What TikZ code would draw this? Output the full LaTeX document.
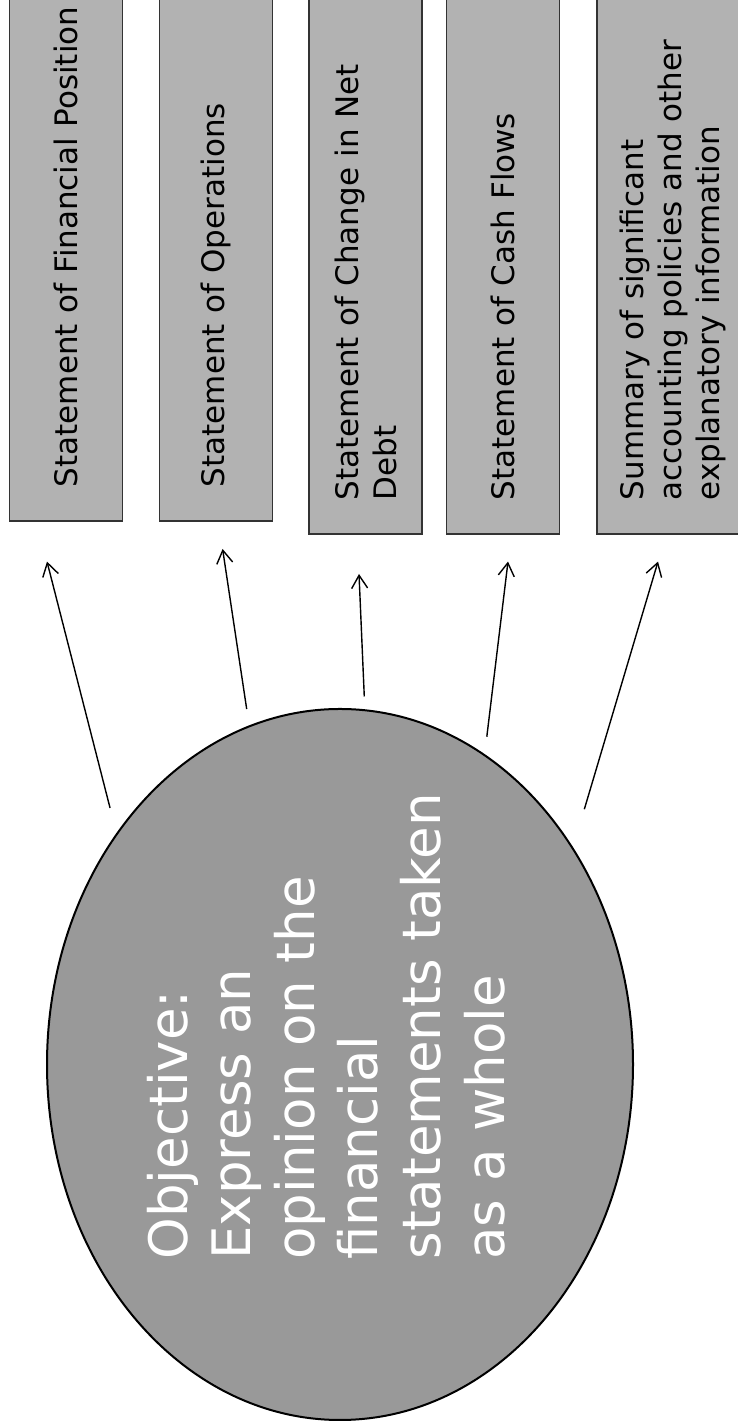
\documentclass[tikz,border=0pt]{standalone}
\usepackage{fontspec}
\setmainfont{DejaVu Sans}
\usepackage{tikz}
\usetikzlibrary{arrows.meta, shapes.geometric}

\definecolor{boxgray}{RGB}{178,178,178}
\definecolor{ovalgray}{RGB}{153,153,153}

\tikzset{
  statement/.style={draw=black!80, line width=0.75pt, fill=boxgray, rotate=90, anchor=west,
    minimum width=300pt, minimum height=56.5pt, inner xsep=17pt, inner ysep=2pt,
    text width=266pt, align=left, font=\fontsize{15.5}{19}\selectfont},
  link/.style={line width=0.7pt, -{Straight Barb[length=6.5pt, width=8pt]}}
}

\begin{document}
\begin{tikzpicture}[x=0.5pt, y=0.5pt]
  \useasboundingbox (0,0) rectangle (738,1428);
  \clip (0,0) rectangle (738,1428);

  % Objective oval
  \node[ellipse, draw, line width=1pt, fill=ovalgray, minimum width=293pt,
    minimum height=355.5pt, inner sep=0pt] (obj) at (340,363.5) {};
  \node[rotate=90, anchor=base west, inner sep=0pt, text width=250pt, align=left,
    text=white, font=\fontsize{26.5}{31.65}\selectfont] (objtxt) at (187.5,168)
    {Objective:\\ Express an\\ opinion on the\\ financial\\ statements taken\\ as a whole};

  % Statements
  \node[statement] (pos) at (66.2,906) {Statement of Financial Position};
  \node[statement] (ops) at (216,906) {Statement of Operations};
  \node[statement] (debt) at (365.5,893) {Statement of Change in Net\\ Debt};
  \node[statement] (cash) at (502.8,893) {Statement of Cash Flows};
  \node[statement, minimum height=76pt] (notes) at (673,893)
    {Summary of significant\\ accounting policies and other\\ explanatory information};

  % Arrow ends
  \coordinate (tip1) at (47,866.4);
  \coordinate (tip2) at (222.6,879);
  \coordinate (tip3) at (359,854);
  \coordinate (tip4) at (508,866.4);
  \coordinate (tip5) at (658,866.4);

  \draw[link, shorten <=12.9pt] (obj.134.3) -- (tip1);
  \draw[link, shorten <=8.3pt] (obj.105) -- (tip2);
  \draw[link, shorten <=6.4pt] (obj.86.93) -- (tip3);
  \draw[link, shorten <=8.8pt] (obj.65.5) -- (tip4);
  \draw[link, shorten <=19.8pt] (obj.43) -- (tip5);
\end{tikzpicture}
\end{document}
